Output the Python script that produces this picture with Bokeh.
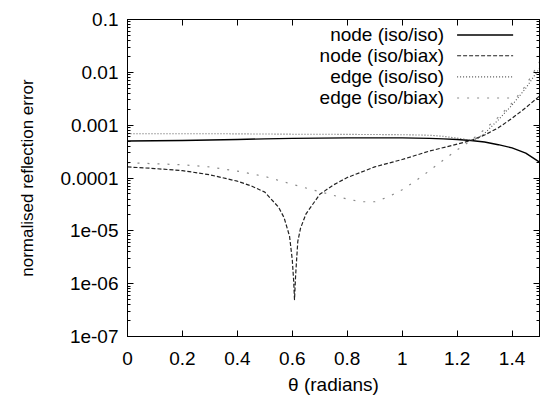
from bokeh.plotting import figure
from bokeh.models import (LogAxis, LinearAxis, FixedTicker, CustomJSTickFormatter,
                          Range1d, ColumnDataSource)
from bokeh.core.properties import value
from bokeh.embed import file_html
from bokeh.resources import INLINE

# ---------------- data ----------------
X_TICKS = [0, 0.2, 0.4, 0.6, 0.8, 1.0, 1.2, 1.4]
X_TICK_LABELS = ["0", "0.2", "0.4", "0.6", "0.8", "1", "1.2", "1.4"]
Y_TICKS = [1e-7, 1e-6, 1e-5, 1e-4, 1e-3, 1e-2, 1e-1]
Y_TICK_LABELS = ["1e-07", "1e-06", "1e-05", "0.0001", "0.001", "0.01", "0.1"]

node_iso_iso_x = [0, 0.1, 0.2, 0.3, 0.4, 0.5, 0.6, 0.7, 0.8, 0.9, 1.0, 1.05, 1.1,
                  1.15, 1.2, 1.25, 1.3, 1.35, 1.4, 1.45, 1.5]
node_iso_iso_y = [5.0e-4, 5.07e-4, 5.13e-4, 5.25e-4, 5.37e-4, 5.5e-4, 5.62e-4, 5.69e-4,
                  5.75e-4, 5.75e-4, 5.75e-4, 5.69e-4, 5.62e-4, 5.5e-4, 5.37e-4, 5.13e-4,
                  4.79e-4, 4.27e-4, 3.72e-4, 2.95e-4, 2.0e-4]

node_iso_biax_x = [0, 0.1, 0.2, 0.3, 0.4, 0.45, 0.5, 0.55, 0.57, 0.59, 0.6, 0.605, 0.608,
                   0.612, 0.62, 0.63, 0.65, 0.7, 0.75, 0.8, 0.9, 1.0, 1.1, 1.2, 1.25, 1.3,
                   1.35, 1.4, 1.45, 1.5]
node_iso_biax_y = [1.62e-4, 1.51e-4, 1.38e-4, 1.15e-4, 8.7e-5, 7.1e-5, 5.4e-5, 2.8e-5,
                   1.78e-5, 7.9e-6, 2.8e-6, 1.12e-6, 5.0e-7, 1.41e-6, 6.3e-6, 1.12e-5,
                   2.1e-5, 4.9e-5, 7.4e-5, 1.02e-4, 1.62e-4, 2.24e-4, 3.24e-4, 4.37e-4,
                   5.13e-4, 6.5e-4, 8.9e-4, 1.35e-3, 2.14e-3, 3.55e-3]

edge_iso_iso_x = [0, 0.2, 0.4, 0.6, 0.8, 1.0, 1.1, 1.15, 1.2, 1.25, 1.275, 1.3, 1.35,
                  1.4, 1.45, 1.5]
edge_iso_iso_y = [6.9e-4, 6.9e-4, 6.85e-4, 6.75e-4, 6.7e-4, 6.6e-4, 6.45e-4, 6.15e-4,
                  5.7e-4, 5.2e-4, 5.6e-4, 7.0e-4, 1.26e-3, 2.4e-3, 5.0e-3, 1.2e-2]

edge_iso_biax_x = [0, 0.1, 0.2, 0.3, 0.4, 0.5, 0.6, 0.7, 0.8, 0.85, 0.9, 0.95, 1.0, 1.05,
                   1.1, 1.15, 1.2, 1.25, 1.3, 1.35, 1.4, 1.45, 1.5]
edge_iso_biax_y = [1.95e-4, 1.86e-4, 1.78e-4, 1.62e-4, 1.35e-4, 1.07e-4, 7.6e-5, 5.5e-5,
                   4.0e-5, 3.55e-5, 3.55e-5, 4.4e-5, 6.0e-5, 8.9e-5, 1.38e-4, 2.19e-4,
                   3.39e-4, 5.13e-4, 8.3e-4, 1.41e-3, 2.63e-3, 5.6e-3, 1.58e-2]

SERIES_NAMES = ["node (iso/iso)", "node (iso/biax)", "edge (iso/iso)", "edge (iso/biax)"]

# ---------------- styling / layout ----------------
FONT = "Liberation Sans"
STYLES = [
    dict(line_color="#000000", line_width=1.4, line_dash="solid"),
    dict(line_color="#222222", line_width=1.2, line_dash="4 2"),
    dict(line_color="#555555", line_width=1.1, line_dash="1 2"),
    dict(line_color="#8a8a8a", line_width=1.2, line_dash="2 8"),
]
LEGEND_TEXT_X = 1.153
LEGEND_LINE_X = [1.200, 1.404]
LEGEND_ROW_Y = [5.09e-2, 2.06e-2, 8.2e-3, 3.27e-3]

p = figure(width=540, height=401, x_range=Range1d(0, 1.5), y_range=Range1d(1e-7, 1e-1),
           y_axis_type="log", output_backend="svg", toolbar_location=None,
           min_border_left=127, min_border_top=19, min_border_right=1, min_border_bottom=65)
p.grid.visible = False
p.outline_line_color = "#000000"
p.outline_line_width = 1
p.background_fill_color = "white"
p.border_fill_color = "white"

xfmt = CustomJSTickFormatter(args=dict(tv=X_TICKS, tl=X_TICK_LABELS), code="""
    const i = tv.findIndex(t => Math.abs(t - tick) < 1e-9);
    return i >= 0 ? tl[i] : '';
""")
yfmt = CustomJSTickFormatter(args=dict(tv=Y_TICKS, tl=Y_TICK_LABELS), code="""
    const i = tv.findIndex(t => Math.abs(Math.log10(t) - Math.log10(tick)) < 1e-6);
    return i >= 0 ? tl[i] : '';
""")
blank = CustomJSTickFormatter(code="return '';")

y_minor = [m * t for t in Y_TICKS[:-1] for m in range(2, 10)]
xticker = FixedTicker(ticks=X_TICKS)
yticker = FixedTicker(ticks=Y_TICKS, minor_ticks=y_minor)

def style_axis(ax):
    ax.axis_line_color = "#000000"
    ax.major_tick_in = 6
    ax.major_tick_out = 0
    ax.minor_tick_in = 3
    ax.minor_tick_out = 0
    ax.major_tick_line_color = "#000000"
    ax.minor_tick_line_color = "#000000"
    ax.major_label_text_font = FONT
    ax.major_label_text_font_size = "19px"
    ax.major_label_text_color = "#000000"
    ax.axis_label_text_font = FONT
    ax.axis_label_text_font_style = "normal"
    ax.axis_label_text_color = "#000000"

xa = p.xaxis[0]
xa.ticker = xticker
xa.formatter = xfmt
style_axis(xa)
xa.minor_tick_in = 0
xa.major_label_standoff = 15
xa.axis_label = "θ (radians)"
xa.axis_label_text_font_size = "19px"
xa.axis_label_standoff = 6

ya = p.yaxis[0]
ya.ticker = yticker
ya.formatter = yfmt
style_axis(ya)
ya.major_label_standoff = 9
ya.axis_label = "normalised reflection error"
ya.axis_label_text_font_size = "17px"
ya.axis_label_standoff = 20

top = LinearAxis(ticker=xticker, formatter=blank)
style_axis(top)
top.minor_tick_in = 0
top.major_label_standoff = 0
p.add_layout(top, "above")

right = LogAxis(ticker=yticker, formatter=blank)
style_axis(right)
right.major_label_standoff = 0
p.add_layout(right, "right")

series = [(node_iso_iso_x, node_iso_iso_y), (node_iso_biax_x, node_iso_biax_y),
          (edge_iso_iso_x, edge_iso_iso_y), (edge_iso_biax_x, edge_iso_biax_y)]
for (xs, ys), st in zip(series, STYLES):
    p.line(xs, ys, line_join="round", **st)

# gnuplot-style key: label (right aligned) followed by the line sample
src = ColumnDataSource(dict(x=[LEGEND_TEXT_X] * 4, y=LEGEND_ROW_Y, t=SERIES_NAMES))
p.text(x="x", y="y", text="t", source=src, text_align="right", text_baseline="middle",
       text_font=value(FONT), text_font_size="19px", text_color="#000000")
for yy, st in zip(LEGEND_ROW_Y, STYLES):
    p.line(LEGEND_LINE_X, [yy, yy], **st)

open("out.html", "w").write(file_html(p, INLINE))
